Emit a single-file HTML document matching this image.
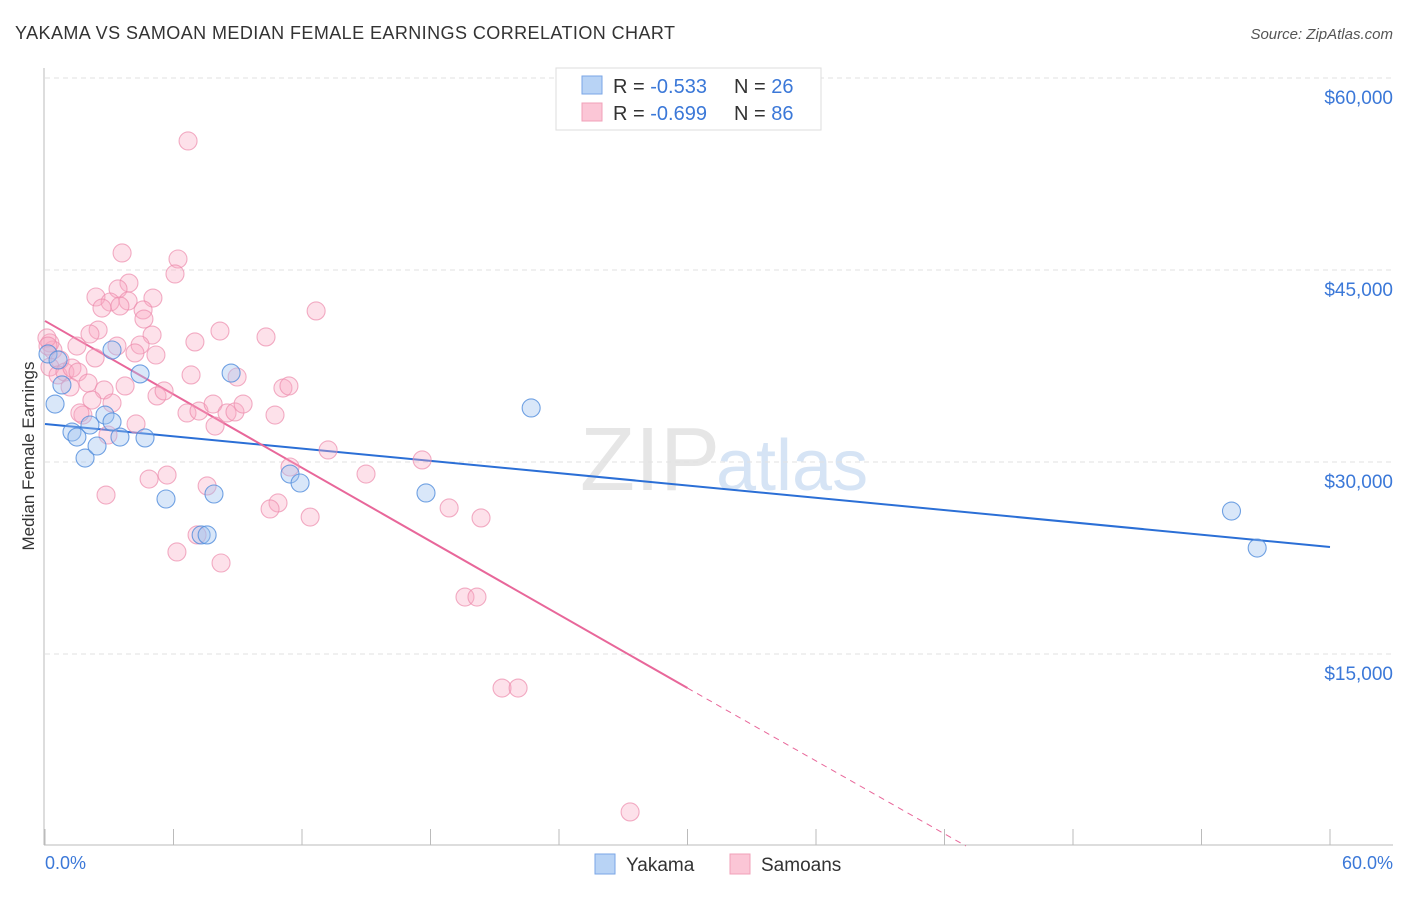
<!DOCTYPE html>
<html><head><meta charset="utf-8"><style>
body{margin:0;background:#fff;font-family:"Liberation Sans",sans-serif}
svg text{font-family:"Liberation Sans",sans-serif}
</style></head><body>
<svg id="chart" width="1406" height="892">
<text x="15" y="39" font-size="18" fill="#333" textLength="660">YAKAMA VS SAMOAN MEDIAN FEMALE EARNINGS CORRELATION CHART</text>
<text x="1393" y="39" font-size="15" fill="#555" text-anchor="end" font-style="italic">Source: ZipAtlas.com</text>
<text x="720" y="490" font-size="90" fill="#e6e6e6" text-anchor="end" font-family="Liberation Serif">ZIP</text>
<text x="716" y="490" font-size="72" fill="#d6e4f5">atlas</text>
<g id="grid"></g><g id="axes"></g><g id="lines"></g><g id="pts"></g>
<text transform="translate(34,456) rotate(-90)" font-size="17" fill="#333" text-anchor="middle">Median Female Earnings</text>
<text x="45" y="869" font-size="18" fill="#3b78d8">0.0%</text>
<text x="1393" y="869" font-size="18" fill="#3b78d8" text-anchor="end">60.0%</text>
<g>
<rect x="556" y="68" width="265" height="62" fill="#fff" stroke="#ddd"/>
<rect x="582" y="76" width="20" height="18" fill="#b8d3f5" stroke="#7aa6e6"/>
<rect x="582" y="103" width="20" height="18" fill="#fbc6d6" stroke="#f0a0b8"/>
<text x="613" y="93" font-size="20" fill="#333">R = <tspan fill="#3b78d8">-0.533</tspan></text>
<text x="734" y="93" font-size="20" fill="#333">N = <tspan fill="#3b78d8">26</tspan></text>
<text x="613" y="120" font-size="20" fill="#333">R = <tspan fill="#3b78d8">-0.699</tspan></text>
<text x="734" y="120" font-size="20" fill="#333">N = <tspan fill="#3b78d8">86</tspan></text>
</g>
<g>
<rect x="595" y="854" width="20" height="20" fill="#b8d3f5" stroke="#7aa6e6"/>
<text x="626" y="871" font-size="19" fill="#333">Yakama</text>
<rect x="730" y="854" width="20" height="20" fill="#fbc6d6" stroke="#f0a0b8"/>
<text x="761" y="871" font-size="19" fill="#333">Samoans</text>
</g>
</svg>
<script>
const yTicks=[15000,30000,45000,60000];
const yTickLabels=["$15,000","$30,000","$45,000","$60,000"];
const xTicks=[0,6,12,18,24,30,36,42,48,54,60];
const yakamaX=[0.14,0.47,0.79,1.26,1.49,1.87,2.1,2.43,2.8,3.13,3.13,3.5,4.44,4.67,5.65,7.29,7.57,7.89,8.69,11.44,11.91,17.79,22.7,55.4,56.6,0.61];
const yakamaY=[38440,34530,36020,32340,31950,30310,32890,31250,33670,33130,38750,31950,36880,31880,27110,24300,24300,27500,36950,29060,28360,27580,34220,26170,23280,37970];
const samoanX=[3.6,6.21,6.07,3.92,3.41,2.38,5.04,3.04,3.88,2.66,3.5,4.58,4.62,12.66,2.48,2.1,5.0,8.17,7.0,10.32,3.36,4.44,1.49,4.2,5.18,2.34,0.23,0.37,0.7,0.23,0.61,0.93,1.26,1.54,1.17,2.01,2.76,3.74,6.82,8.97,11.11,11.39,2.19,3.13,5.23,5.56,1.77,1.63,4.25,6.63,7.19,7.85,8.5,8.87,9.25,7.94,10.74,2.94,13.22,11.44,4.86,5.7,7.57,2.85,10.88,10.51,12.38,7.1,6.16,6.68,14.99,17.61,18.87,20.36,19.61,20.17,21.34,22.09,27.32,8.22,0.09,0.14];
const samoanY=[46330,45860,44690,43980,43520,42890,42810,42500,42580,42030,42190,41880,41170,41800,40310,40000,39920,40230,39380,39770,39060,39140,39060,38520,38360,38130,39300,38750,37970,37420,36800,37030,37340,37030,35860,36170,35630,35940,36800,36640,35780,35940,34840,34610,35160,35550,33670,33830,32970,33830,33980,34530,33830,33910,34530,32810,33670,32110,30940,29610,28670,28980,28130,27420,26800,26330,25700,24300,22970,55080,29060,30160,26410,25630,19450,19450,12340,12340,2660,22110,39690,39060];
const yakamaFit=[32970,23360];
const samoanFit=[41020,12340,0];
const samoanFitX=[0,30,43];
const X0=45,X1=1330,YB=846,YS=192/15000;
const sx=v=>X0+(v/60)*(X1-X0);
const sy=v=>YB-v*YS;
const NS="http://www.w3.org/2000/svg";
function mk(tag,attrs,parent){const e=document.createElementNS(NS,tag);for(const k in attrs)e.setAttribute(k,attrs[k]);document.getElementById(parent).appendChild(e);return e;}
yTicks.forEach((t,i)=>{
 const l=mk('line',{x1:X0,x2:1393,y1:sy(t),y2:sy(t),stroke:'#e2e2e2','stroke-dasharray':'5,4'},'grid');
 
 
 const tx=mk('text',{x:1393,y:sy(t)+26,'font-size':19,fill:'#3b78d8','text-anchor':'end'},'grid');
 tx.textContent=yTickLabels[i];
 
 
});
const ax=mk('line',{x1:44,x2:44,y1:68,y2:845,stroke:'#bbb'},'axes');


const bx=mk('line',{x1:44,x2:1393,y1:845,y2:845,stroke:'#bbb'},'axes');


xTicks.forEach(t=>{
 const l=mk('line',{x1:sx(t),x2:sx(t),y1:829,y2:845,stroke:'#bbb'},'axes');
 
 
});
const bl=mk('line',{x1:sx(0),y1:sy(yakamaFit[0]),x2:sx(60),y2:sy(yakamaFit[1]),stroke:'#2b6fd6','stroke-width':2},'lines');


const pl=mk('line',{x1:sx(samoanFitX[0]),y1:sy(samoanFit[0]),x2:sx(samoanFitX[1]),y2:sy(samoanFit[1]),stroke:'#e8679a','stroke-width':2},'lines');


const pd=mk('line',{x1:sx(samoanFitX[1]),y1:sy(samoanFit[1]),x2:sx(samoanFitX[2]),y2:sy(samoanFit[2]),stroke:'#e8679a','stroke-width':1,'stroke-dasharray':'6,5'},'lines');


samoanX.forEach((x,i)=>{
 const c=mk('circle',{cx:sx(x),cy:sy(samoanY[i]),r:9,fill:'rgba(248,170,196,0.35)',stroke:'rgba(236,140,172,0.7)','stroke-width':1.1},'pts');
 
 
});
yakamaX.forEach((x,i)=>{
 const c=mk('circle',{cx:sx(x),cy:sy(yakamaY[i]),r:9,fill:'rgba(160,195,240,0.4)',stroke:'rgba(80,140,220,0.8)','stroke-width':1.1},'pts');
 
 
});
</script>
</body></html>
